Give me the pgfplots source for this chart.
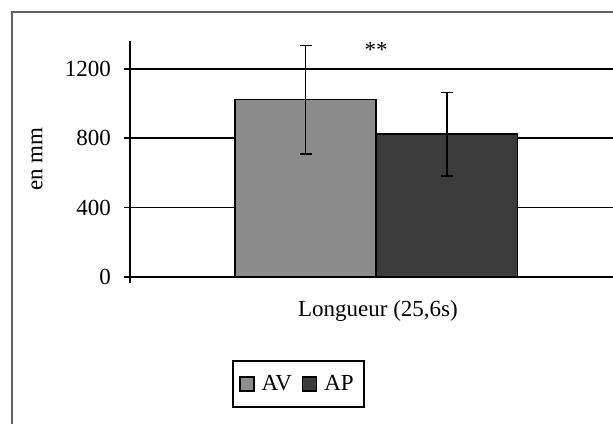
\documentclass[border=0pt]{standalone}
\usepackage{pgfplots}
\pgfplotsset{compat=1.18}
\usepackage{fontspec}
\setmainfont{Liberation Serif}
\definecolor{avgray}{HTML}{8C8C8C}
\definecolor{apgray}{HTML}{3C3C3C}
\definecolor{framegray}{HTML}{606060}
\begin{document}
\begin{tikzpicture}[font=\fontsize{11.5}{14}\selectfont, x=0.5pt, y=0.5pt]
\begin{axis}[
  at={(65pt,70pt)}, anchor=south west,
  scale only axis, width=246pt, height=121pt,
  xmin=130, xmax=622, ymin=-35, ymax=1360,
  axis x line=none, axis y line=left,
  axis line style={-, black, line width=0.85pt},
  ytick={0,400,800,1200},
  tick align=outside, major tick length=3pt,
  tick style={black, line width=0.85pt},
  ymajorgrids, grid style={black, line width=0.85pt},
  /pgf/number format/assume math mode=true,
  /pgf/number format/1000 sep={},
  yticklabel style={xshift=-3pt},
  legend columns=2,
  legend style={at={(0.3425,-0.417)}, anchor=center, draw=black, line width=0.85pt,
    inner xsep=3pt, inner ysep=5pt, /tikz/every even column/.append style={column sep=3pt}},
  legend image code/.code={\draw[#1, draw=black, line width=0.7pt] (0pt,-3.5pt) rectangle (7pt,3.5pt);},
  clip=false,
]
\addplot[ybar, bar width=141, bar shift=0, fill=avgray, draw=black, line width=0.85pt,
  error bars/.cd, y dir=both, y explicit,
  error bar style={black, line width=0.85pt},
  error mark options={rotate=90, mark size=3pt, line width=0.85pt}]
  coordinates {(305.5,1022) +- (0,312)};
\addlegendentry{\hspace{1.5pt}AV}
\addplot[ybar, bar width=141, bar shift=0, fill=apgray, draw=black, line width=0.85pt,
  error bars/.cd, y dir=both, y explicit,
  error bar style={black, line width=0.85pt},
  error mark options={rotate=90, mark size=3pt, line width=0.85pt}]
  coordinates {(447,823) +- (0,240)};
\addlegendentry{\hspace{1.5pt}AP}
\node at (axis cs:376,1310) {**};
\end{axis}
\node at (189pt,56pt) {Longueur (25,6s)};
\node[rotate=90] at (18.5pt,132pt) {en mm};
\draw[framegray, line width=0.7pt] (6pt,-20pt) -- (6pt,205.5pt) -- (330pt,205.5pt);
\pgfresetboundingbox
\path[use as bounding box] (0pt,0pt) rectangle (306.5pt,211.5pt);
\end{tikzpicture}
\end{document}
